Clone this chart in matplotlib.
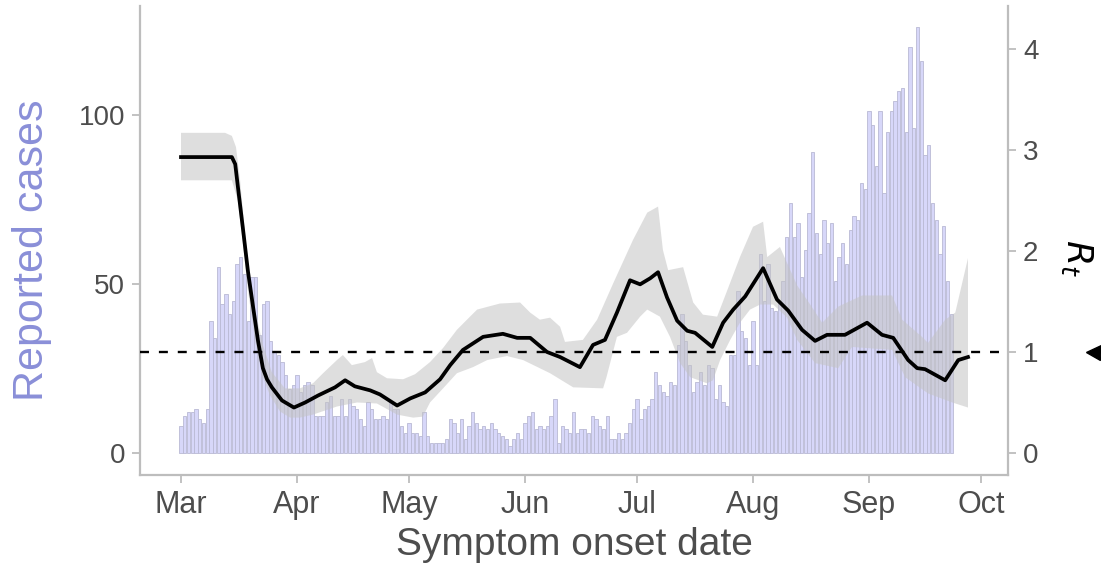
import numpy as np
import pandas as pd
import matplotlib
matplotlib.use("Agg")
import matplotlib.pyplot as plt
import matplotlib.dates as mdates
import matplotlib.transforms as mtrans

plt.rcParams['font.family'] = ['Liberation Sans', 'DejaVu Sans']

# ---------------- data ----------------
start_date = "2020-03-01"
cases = [8, 11, 12, 12, 13, 10, 9, 13, 39, 34, 55, 44, 47, 41, 45, 56, 58, 53, 39, 52,
         52, 35, 44, 45, 33, 30, 29, 27, 23, 19, 20, 23, 18, 20, 21, 20, 11, 11, 11, 15,
         17, 11, 11, 16, 11, 16, 14, 13, 10, 8, 15, 13, 10, 10, 11, 10, 15, 13, 13, 8,
         6, 9, 6, 6, 5, 12, 5, 3, 3, 3, 3, 4, 10, 9, 6, 10, 4, 8, 12, 9,
         7, 8, 7, 9, 7, 6, 5, 4, 2, 4, 6, 4, 9, 11, 12, 7, 8, 7, 8, 11,
         16, 3, 8, 7, 6, 12, 6, 7, 7, 6, 11, 10, 8, 7, 11, 4, 4, 6, 4, 6,
         9, 13, 16, 10, 13, 14, 16, 24, 20, 18, 17, 21, 20, 32, 41, 33, 26, 18, 21, 24,
         20, 26, 25, 16, 20, 15, 14, 29, 29, 48, 36, 34, 26, 39, 26, 59, 45, 56, 43, 42,
         45, 51, 64, 74, 64, 68, 52, 60, 71, 89, 65, 59, 69, 62, 68, 51, 58, 62, 56, 66,
         70, 69, 80, 78, 101, 97, 85, 101, 77, 95, 101, 104, 107, 108, 95, 120, 96, 126, 116, 88,
         91, 74, 69, 59, 67, 51, 41]

# Rt estimate (day offset from start, value)
rt_day = [0, 13.6, 14.5, 15.2, 16.6, 17.9, 19.3, 20.6, 21.9, 23.0, 24.3, 27.0, 30.2, 33.2,
          36.7, 41.2, 43.9, 46.5, 50.6, 53.2, 57.8, 61.3, 65.3, 69.3, 72.0, 75.4, 80.8,
          86.1, 89.9, 93.4, 97.9, 101.4, 106.7, 110.2, 113.4, 116.6, 120.1, 122.8, 125.5,
          127.6, 130.0, 132.7, 135.4, 137.5, 142.1, 145.0, 147.7, 150.9, 155.7, 159.4,
          162.4, 166.1, 169.6, 172.8, 177.6, 183.5, 187.5, 190.5, 194.5, 196.9, 199.0,
          204.4, 207.9, 210.5]
rt_mean = [2.93, 2.93, 2.86, 2.64, 2.21, 1.80, 1.44, 1.11, 0.84, 0.73, 0.65, 0.52, 0.45, 0.50,
           0.57, 0.65, 0.72, 0.66, 0.62, 0.58, 0.47, 0.54, 0.60, 0.73, 0.87, 1.02, 1.15,
           1.18, 1.14, 1.14, 1.00, 0.95, 0.85, 1.07, 1.12, 1.39, 1.71, 1.67, 1.73,
           1.79, 1.54, 1.31, 1.21, 1.19, 1.05, 1.29, 1.42, 1.55, 1.83, 1.52,
           1.41, 1.22, 1.11, 1.17, 1.17, 1.29, 1.17, 1.14, 0.92, 0.84, 0.83,
           0.72, 0.92, 0.95]

# Credible interval bounds
upper_day = [0, 11.8, 13.6, 14.7, 15.8, 16.9, 17.9, 19.8, 21.9, 24.3, 27.8, 31.8, 35.3, 38.0,
             41.7, 43.3, 45.7, 49.2, 51.1, 52.4, 55.1, 59.4, 62.6, 66.6, 70.1, 73.8, 77.3,
             79.2, 85.3, 90.7, 93.4, 96.0, 98.7, 101.4, 102.7, 107.5, 111.3, 115.6, 120.9,
             124.7, 127.6, 128.9, 130.3, 134.3, 137.0, 139.6, 143.4, 146.1, 149.5, 153.0,
             155.7, 156.8, 160.2, 164.8, 168.3, 171.5, 175.8, 182.2, 190.2, 192.9, 198.2,
             199.8, 204.4, 207.1, 210.5]
upper_val = [3.17, 3.17, 3.14, 3.03, 2.70, 2.26, 1.89, 1.42, 1.07, 0.80, 0.64, 0.64, 0.69, 0.79,
             0.92, 0.97, 0.87, 0.90, 0.94, 0.80, 0.74, 0.73, 0.78, 0.90, 1.04, 1.22, 1.35,
             1.42, 1.48, 1.49, 1.39, 1.32, 1.34, 1.25, 1.10, 1.12, 1.32, 1.68, 2.11,
             2.38, 2.44, 2.01, 1.81, 1.84, 1.49, 1.37, 1.35, 1.61, 1.94, 2.24,
             2.29, 1.94, 2.04, 1.66, 1.47, 1.29, 1.45, 1.56, 1.56, 1.32, 1.15,
             1.09, 1.32, 1.39, 1.93]
lower_day = [0, 13.6, 15.2, 16.6, 17.9, 19.8, 21.7, 23.8, 26.5, 29.2, 31.8, 35.3, 41.7, 47.1,
             52.4, 57.8, 62.1, 64.7, 66.6, 70.1, 73.8, 78.1, 81.9, 87.2, 91.5, 98.7, 104.9,
             112.9, 113.8, 116.6, 119.3, 122.8, 124.7, 128.1, 130.8, 133.5, 136.2, 140.7,
             142.3, 144.2, 146.9, 149.5, 152.2, 154.9, 158.4, 162.1, 164.8, 169.6, 175.8,
             179.5, 190.2, 193.7, 199.8, 206.3, 210.5]
lower_val = [2.70, 2.70, 2.50, 2.06, 1.61, 1.12, 0.77, 0.57, 0.41, 0.35, 0.35, 0.38, 0.46, 0.50,
             0.49, 0.38, 0.35, 0.36, 0.50, 0.64, 0.79, 0.85, 0.92, 0.96, 0.92, 0.79, 0.65,
             0.64, 0.75, 1.15, 1.19, 1.35, 1.42, 1.35, 1.15, 0.89, 0.75, 0.69,
             0.72, 0.92, 1.12, 1.29, 1.42, 1.47, 1.47, 1.34, 1.12, 0.89, 0.84,
             1.05, 1.02, 0.75, 0.59, 0.50, 0.45]

month_ticks = ["2020-03-01", "2020-04-01", "2020-05-01", "2020-06-01",
               "2020-07-01", "2020-08-01", "2020-09-01", "2020-10-01"]
left_ticks = [0, 50, 100]
right_ticks = [0, 1, 2, 3, 4]
rt_threshold = 1

# ---------------- styling ----------------
GREY_AX = '#bdbdbd'
TXT = '#4d4d4d'
BAR_FILL = '#d7d7f9'
BAR_EDGE = '#b9b9d4'
YLAB_COL = '#8a8fd8'

fig = plt.figure(figsize=(11.01, 5.66), dpi=100)
ax = fig.add_axes([140/1101, 1-475/566, 868/1101, 469/566])

t0 = pd.Timestamp(start_date)
bar_dates = pd.date_range(start_date, periods=len(cases), freq='D')
ax.bar(bar_dates, cases, width=0.88, color=BAR_FILL, edgecolor=BAR_EDGE,
       linewidth=0.6, zorder=2)

ax.set_ylim(-6.5, 132.2)
ax.set_xlim(t0 - pd.Timedelta(days=10.97), t0 + pd.Timedelta(days=221.2))
ax.set_yticks(left_ticks)
ax.set_xticks(pd.to_datetime(month_ticks))
ax.xaxis.set_major_formatter(mdates.DateFormatter('%b'))

ax2 = ax.twinx()
ax2.set_ylim(-0.218, 4.426)
ax2.set_yticks(right_ticks)

up_x = t0 + pd.to_timedelta(upper_day, unit='D')
lo_x = t0 + pd.to_timedelta(lower_day, unit='D')
poly_x = np.concatenate([mdates.date2num(up_x), mdates.date2num(lo_x)[::-1]])
poly_y = np.concatenate([upper_val, lower_val[::-1]])
ax2.fill(poly_x, poly_y, color='#c4c4c4', alpha=0.55, linewidth=0, zorder=2)

ax2.axhline(rt_threshold, color='black', lw=1.7, linestyle=(0, (3.8, 4.2)), zorder=3)

rt_x = t0 + pd.to_timedelta(rt_day, unit='D')
ax2.plot(rt_x, rt_mean, color='black', lw=2.7, solid_joinstyle='round', zorder=4)

# arrow marker at Rt = 1 beyond the right axis
trans = mtrans.blended_transform_factory(ax2.transAxes, ax2.transData)
ax2.plot([1.0985], [rt_threshold], marker='<', ms=10.8, color='black',
         transform=trans, clip_on=False, linestyle='none')

# spines
for a in (ax, ax2):
    for s in a.spines.values():
        s.set_visible(False)
for s in ('left', 'bottom'):
    ax.spines[s].set_visible(True)
    ax.spines[s].set_color(GREY_AX)
    ax.spines[s].set_linewidth(1.6)
ax2.spines['right'].set_visible(True)
ax2.spines['right'].set_color(GREY_AX)
ax2.spines['right'].set_linewidth(1.6)

ax.tick_params(axis='y', length=5.8, width=1.3, color=GREY_AX, labelcolor=TXT,
               labelsize=20, pad=5)
ax.tick_params(axis='x', length=5.8, width=1.3, color=GREY_AX, labelcolor=TXT,
               labelsize=22, pad=5)
ax2.tick_params(axis='y', length=5.8, width=1.3, color=GREY_AX, labelcolor=TXT,
                labelsize=20, pad=5)

ax.set_xlabel('Symptom onset date', fontsize=28, color=TXT)
ax.xaxis.set_label_coords(0.5, (475-545)/469)
ax.xaxis.label.set_va('center')

ax.set_ylabel('Reported cases', fontsize=31, color=YLAB_COL)
ax.yaxis.set_label_coords((32-140)/868, (475-250)/469)
ax.yaxis.label.set_va('center')

ax2.set_ylabel(r'$R_t$', fontsize=26, color='black', rotation=-90)
ax2.yaxis.set_label_coords((1077-140)/868, (475-258)/469)
ax2.yaxis.label.set_va('center')
ax2.yaxis.label.set_ha('center')

fig.savefig('out.png', dpi=100)
